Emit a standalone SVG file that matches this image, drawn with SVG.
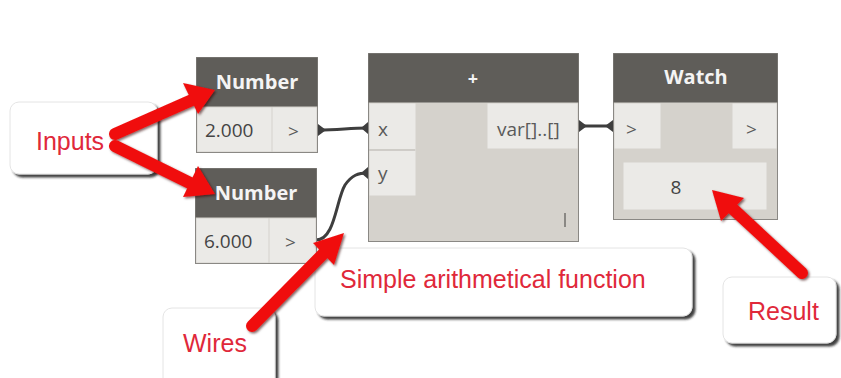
<svg xmlns="http://www.w3.org/2000/svg" width="841" height="378" viewBox="0 0 841 378">
  <style>
    .hdr { fill: #5f5d59; }
    .body { fill: #d5d2cc; stroke: #8a8884; stroke-width: 1; }
    .cell { fill: #ebeae7; }
    .sep { stroke: #bdbab5; stroke-width: 1; }
    .title { font-family: "Open Sans", "Liberation Sans", sans-serif; font-weight: bold; font-size: 20px; fill: #f4f4f4; text-anchor: middle; }
    .port { font-family: "Open Sans", "Liberation Sans", sans-serif; font-size: 19px; fill: #5a5a5a; }
    .val { font-family: "Open Sans", "Liberation Sans", sans-serif; font-size: 19px; fill: #444; }
    .note { font-family: "Liberation Sans", Arial, sans-serif; font-size: 25px; fill: #e0283a; }
    .callout { fill: #ffffff; stroke: #e4e4e4; stroke-width: 1; filter: url(#shadow); }
    .wire { fill: none; stroke: #3e3e3e; stroke-width: 3; stroke-linecap: round; }
    .redline { stroke: #f01010; stroke-width: 12; stroke-linecap: round; fill: none; }
    .redhead { fill: #f01010; }
  </style>
  <defs>
    <filter id="shadow" x="-10%" y="-10%" width="130%" height="140%">
      <feDropShadow dx="3" dy="3" stdDeviation="1.2" flood-color="#222" flood-opacity="0.85"/>
    </filter>
    <filter id="redshadow" x="-10%" y="-10%" width="130%" height="130%">
      <feDropShadow dx="1.5" dy="1.5" stdDeviation="1.2" flood-color="#300" flood-opacity="0.6"/>
    </filter>
  </defs>
  <rect width="841" height="378" fill="#ffffff"/>

  <!-- callout notes -->
  <g id="note-inputs">
    <rect class="callout" x="10" y="102" width="147" height="72" rx="9"/>
    <text class="note" x="36" y="150">Inputs</text>
  </g>
  <g id="note-function">
    <rect class="callout" x="315" y="248" width="377" height="68" rx="9"/>
    <text class="note" x="340" y="288">Simple arithmetical function</text>
  </g>
  <g id="note-wires">
    <rect class="callout" x="163" y="308" width="112" height="90" rx="9"/>
    <text class="note" x="183" y="352">Wires</text>
  </g>
  <g id="note-result">
    <rect class="callout" x="723" y="277" width="113" height="66" rx="9"/>
    <text class="note" x="748" y="320">Result</text>
  </g>

  <!-- wires between nodes -->
  <g id="connectors">
    <path class="wire" d="M318 130 C340 130 348 128 368 128"/>
    <path class="wire" d="M316 240 C335 240 336 200 345 185 C352 175 358 173 368 173"/>
    <path class="wire" d="M579 126 C595 126 597 126 613 126"/>
    <path d="M318 124 L326 130 L318 136 Z M368 122 L361 128 L368 134 Z M368 167 L361 173 L368 179 Z M579 120 L587 126 L579 132 Z M613 120 L605 126 L613 132 Z" fill="#3e3e3e"/>
  </g>

  <!-- Number node (2.000) -->
  <g id="number-a">
    <rect class="body" x="196.5" y="57.5" width="121" height="95"/>
    <rect class="hdr" x="196.5" y="57.5" width="121" height="49"/>
    <rect class="cell" x="197.5" y="107.5" width="74" height="44"/>
    <rect class="cell" x="272.5" y="107.5" width="44" height="44"/>
    <text class="title" x="257" y="89">Number</text>
    <text class="val" x="205" y="137">2.000</text>
    <text class="port" x="288" y="138">&gt;</text>
  </g>

  <!-- Number node (6.000) -->
  <g id="number-b">
    <rect class="body" x="195.5" y="168.5" width="121" height="95"/>
    <rect class="hdr" x="195.5" y="168.5" width="121" height="49"/>
    <rect class="cell" x="196.5" y="218.5" width="72" height="44"/>
    <rect class="cell" x="269.5" y="218.5" width="46" height="44"/>
    <text class="title" x="256" y="200">Number</text>
    <text class="val" x="204" y="248">6.000</text>
    <text class="port" x="285" y="249">&gt;</text>
  </g>

  <!-- Add node -->
  <g id="add">
    <rect class="body" x="368.5" y="53.5" width="210" height="188"/>
    <rect class="hdr" x="368.5" y="53.5" width="210" height="49"/>
    <rect class="cell" x="369.5" y="103.5" width="46" height="46"/>
    <rect class="cell" x="369.5" y="150.5" width="46" height="45"/>
    <line class="sep" x1="369" y1="150" x2="415" y2="150"/>
    <rect class="cell" x="487.5" y="103.5" width="90" height="45"/>
    <text class="title" x="473" y="85" style="font-size:18px">+</text>
    <text class="port" x="378" y="136">x</text>
    <text class="port" x="378" y="180">y</text>
    <text class="port" x="497" y="136">var[]..[]</text>
    <rect x="564" y="213" width="2" height="14" fill="#8a8884"/>
  </g>

  <!-- Watch node -->
  <g id="watch">
    <rect class="body" x="613.5" y="53.5" width="164" height="166"/>
    <rect class="hdr" x="613.5" y="53.5" width="164" height="49"/>
    <rect class="cell" x="614.5" y="103.5" width="46" height="45"/>
    <rect class="cell" x="732.5" y="103.5" width="44" height="45"/>
    <rect class="cell" x="623.5" y="162.5" width="143" height="47"/>
    <text class="title" x="696" y="84">Watch</text>
    <text class="port" x="626" y="136">&gt;</text>
    <text class="port" x="746" y="136">&gt;</text>
    <text class="val" x="676" y="194" text-anchor="middle" fill="#888">8</text>
  </g>

  <!-- red pointer arrows -->
  <g id="pointers" filter="url(#redshadow)">
    <line class="redline" x1="115" y1="134" x2="192" y2="100"/>
    <polygon class="redhead" points="215,90 183,83 198,114"/>
    <line class="redline" x1="115" y1="146" x2="192" y2="184"/>
    <polygon class="redhead" points="215,194 198,166 183,197"/>
    <line class="redline" x1="252" y1="326" x2="325" y2="252"/>
    <polygon class="redhead" points="344,233 313,243 334,265"/>
    <line class="redline" x1="802" y1="273" x2="732" y2="208"/>
    <polygon class="redhead" points="712,190 721,221 744,198"/>
  </g>
</svg>
